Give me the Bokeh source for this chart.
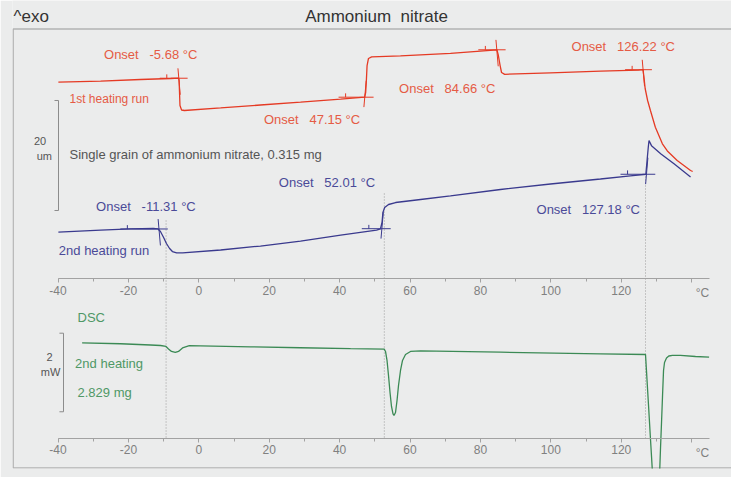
from bokeh.plotting import figure
from bokeh.models import Range1d, LinearAxis, SingleIntervalTicker, CustomJSTickFormatter
from bokeh.core.properties import value
from bokeh.embed import file_html
from bokeh.resources import INLINE
import numpy as np

# ---------------------------------------------------------------------------
# TMA, 1st heating run: temperature (°C) vs. length change (µm, display offset)
tma1_temp = [-39.9, -27.9, -16.6, -8.0, -5.75, -5.6, -5.5, -5.35, -4.9, -4.1,
             6.2, 17.5, 28.9, 40.3, 47.1, 47.4, 47.6, 47.8, 48.2, 49.1,
             57.3, 71.5, 84.7, 85.1, 85.6, 86.0, 86.9, 99.9, 114.1, 124.9,
             126.2, 126.5, 126.8, 127.5, 128.3, 129.7, 131.7, 133.1, 135.9, 139.7, 140.3]
tma1_len = [0.24, 0.45, 0.73, 0.91, 0.96, 0.55, -1.27, -4.0, -4.82, -4.91,
            -4.45, -3.91, -3.40, -2.85, -2.49, -1.64, 0.55, 3.27, 4.55, 4.85,
            5.04, 5.49, 6.13, 5.09, 3.27, 2.0, 1.67, 1.95, 2.24, 2.45,
            2.51, 0.91, -0.91, -3.09, -4.91, -7.95, -10.96, -12.27, -14.0, -15.82, -16.0]

# TMA, 2nd heating run
tma2_temp = [-39.9, -27.9, -19.4, -12.9, -11.6, -10.9, -10.0, -9.2, -8.3, -7.5,
             -6.3, -4.6, 6.2, 17.5, 28.9, 40.3, 50.5, 51.6, 52.05, 52.3,
             52.8, 53.9, 55.9, 63.0, 71.5, 85.7, 99.9, 114.1, 122.6, 127.0,
             127.4, 127.7, 127.9, 128.6, 131.3, 135.0, 139.7]
tma2_len = [-27.04, -26.67, -26.42, -26.36, -26.45, -26.91, -28.0, -29.09, -30.0, -30.55,
            -30.78, -30.78, -30.27, -29.55, -28.64, -27.55, -26.64, -26.45, -25.27, -23.45,
            -22.55, -22.0, -21.64, -21.09, -20.45, -19.27, -18.27, -17.36, -16.78, -16.5,
            -13.6, -11.5, -10.36, -11.3, -12.8, -14.6, -17.0]

# DSC, 2nd heating: temperature (°C) vs. heat flow (mW, exo up)
dsc_temp = [-33.15, -22.24, -13.72, -10.88, -9.32, -8.61, -7.76, -6.68, -5.77, -4.63,
            -2.7, 0.48, 14.69, 28.89, 43.1, 52.67, 53.04, 53.47, 53.89, 54.32,
            54.74, 55.17, 55.45, 55.88, 56.31, 56.73, 57.3, 57.87, 58.72, 60.14,
            62.98, 85.7, 114.12, 126.9, 127.19, 127.47, 127.76, 128.04, 128.32, 128.61,
            128.89, 129.32, 129.89, 130.45, 130.97, 131.16, 131.45, 131.73, 132.02, 132.3,
            132.87, 133.52, 134.57, 136.84, 141.1, 144.97]
dsc_flow = [0.0, -0.025, -0.056, -0.069, -0.094, -0.158, -0.221, -0.247, -0.221, -0.132,
            -0.074, -0.079, -0.102, -0.127, -0.150, -0.163, -0.221, -0.450, -0.832, -1.265,
            -1.621, -1.812, -1.850, -1.774, -1.469, -1.087, -0.705, -0.450, -0.298, -0.221,
            -0.204, -0.239, -0.280, -0.298, -0.730, -1.163, -1.596, -2.028, -2.461, -2.894,
            -3.326, -3.886, -4.319, -4.013, -3.166, -2.690, -2.028, -1.367, -0.705, -0.501,
            -0.387, -0.336, -0.323, -0.323, -0.349, -0.367]

# Evaluated onsets (°C), their level on the curve (µm), step direction and
# the start of the baseline evaluation window
run1_onset = [-5.68, 47.15, 84.66, 126.22]
run1_onset_len = [0.96, -2.49, 6.13, 2.51]
run1_step = [-1, 1, -1, -1]
run1_limit = [-9.1, 41.7, 81.4, 123.1]

run2_onset = [-11.31, 52.01, 127.18]
run2_onset_len = [-26.45, -26.4, -16.5]
run2_step = [-1, 1, 1]
run2_limit = [-20.3, 48.3, 121.8]

# DSC transition temperatures linked to the TMA traces
dsc_link_temp = [-9.3, 52.7, 126.9]

# Scale bars
tma_scale_um = 20
dsc_scale_mw = 2

axis_ticks_step = 20
chart_title = "Ammonium\u00a0 nitrate"
exo_note = "^exo"
sample_note = "Single grain of ammonium nitrate, 0.315 mg"
dsc_mass = "2.829 mg"

# ---------------------------------------------------------------------------
FONT = "Liberation Sans"
BG = "#ebecec"
RED, RED_TXT = "#e53a24", "#e55b45"
BLUE, BLUE_TXT = "#3a3a8e", "#4a4a98"
GREEN, GREEN_TXT = "#3b8a55", "#4f9866"
GREY_TXT = "#555555"
AXIS = "#a2a2a2"
FRAME = "#b3b3b3"

# The default y range is in layout units (0 at the top of the page, 468 at the
# bottom of the clipping frame); the curves use their own physical ranges.
p = figure(width=731, height=477, output_backend="svg", toolbar_location=None,
           x_range=Range1d(-52.93, 151.33), y_range=Range1d(468, 0),
           x_axis_location=None, y_axis_location=None, title=None,
           min_border_left=12, min_border_right=0, min_border_top=0, min_border_bottom=9,
           background_fill_color=BG, border_fill_color=BG, outline_line_color=None)
p.grid.visible = False
p.extra_y_ranges = {"tma": Range1d(-70, 15.091), "dsc": Range1d(-3.2, 8.7127)}

# panel frame
p.line(x=[155, -52.75, -52.75, 155], y=[28.5, 28.5, 467.5, 467.5],
       line_color=FRAME, line_width=1.5)

# temperature axes of both panels; the last tick carries the unit instead of a number
for loc in (278, 437.5):
    ax = LinearAxis(fixed_location=loc,
                    ticker=SingleIntervalTicker(interval=axis_ticks_step, num_minor_ticks=2),
                    formatter=CustomJSTickFormatter(code="return tick >= 140 ? '' : tick.toString()"),
                    bounds=(-40, 145),
                    axis_line_color=AXIS, major_tick_line_color=AXIS, minor_tick_line_color=AXIS,
                    major_tick_in=0, major_tick_out=4, minor_tick_in=0, minor_tick_out=3,
                    major_label_standoff=3, major_label_text_font=FONT,
                    major_label_text_font_size="12px", major_label_text_color="#808080")
    p.add_layout(ax, "below")
p.text(x=[143.1, 143.1], y=[292, 452.5], text=["°C", "°C"], text_color="#808080",
       text_font=value(FONT), text_font_size="12px", text_align="center", text_baseline="middle")

# dotted links from the DSC events to the TMA steps
p.segment(x0=dsc_link_temp, y0=[220, 193, 176], x1=dsc_link_temp, y1=[437.5] * 3,
          line_color="#9c9c9c", line_dash="1 2", line_width=1)

# curves
p.line(tma1_temp, tma1_len, y_range_name="tma", line_color=RED, line_width=1.3)
p.line(tma2_temp, tma2_len, y_range_name="tma", line_color=BLUE, line_width=1.3)
p.line(dsc_temp, dsc_flow, y_range_name="dsc", line_color=GREEN, line_width=1.3)


def onset_marks(onset, level, step, limit, color):
    onset, level, step, limit = map(np.asarray, (onset, level, step, limit))
    # baseline tangent, drawn flat through the onset level
    p.segment(x0=limit - 2, y0=level, x1=onset + 2.5, y1=level,
              y_range_name="tma", line_color=color, line_width=1)
    # steep tangent through the step
    p.segment(x0=onset - 0.25, y0=level - step * 1.8, x1=onset + 0.4, y1=level + step * 3.0,
              y_range_name="tma", line_color=color, line_width=1)
    # evaluation limit tick
    p.segment(x0=limit, y0=level, x1=limit, y1=level + 0.7,
              y_range_name="tma", line_color=color, line_width=1)


onset_marks(run1_onset, run1_onset_len, run1_step, run1_limit, RED)
onset_marks(run2_onset, run2_onset_len, run2_step, run2_limit, BLUE)

# scale bars
p.line(x=[-41.0, -39.86, -39.86, -41.0], y=[-3.09, -3.09, -3.09 - tma_scale_um, -3.09 - tma_scale_um],
       y_range_name="tma", line_color="#8c8c8c", line_width=1)
p.line(x=[-39.6, -38.44, -38.44, -39.6], y=[0.244, 0.244, 0.244 - dsc_scale_mw, 0.244 - dsc_scale_mw],
       y_range_name="dsc", line_color="#8c8c8c", line_width=1)
p.text(x=[-45.09, -43.9, -42.41, -42.13], y=[140, 155, 356.7, 371.7],
       text=[str(tma_scale_um), "um", str(dsc_scale_mw), "mW"], text_color=GREY_TXT,
       text_font=value(FONT), text_font_size="11px", text_align="center", text_baseline="middle")


def onset_text(t):
    return "Onset\u00a0\u00a0\u00a0" + f"{t:.2f}" + " °C"


p.text(x=[-26.93, 18.49, 56.9, 105.88], y=[54, 119.3, 88.3, 46],
       text=[onset_text(t) for t in run1_onset], text_color=RED_TXT,
       text_font=value(FONT), text_font_size="13px", text_align="left", text_baseline="middle")
p.text(x=[-29.18, 22.73, 95.94], y=[206, 181.7, 209.3],
       text=[onset_text(t) for t in run2_onset], text_color=BLUE_TXT,
       text_font=value(FONT), text_font_size="13px", text_align="left", text_baseline="middle")
p.text(x=[-36.73], y=[98.3], text=["1st heating run"], text_color=RED_TXT,
       text_font=value(FONT), text_font_size="12px", text_align="left", text_baseline="middle")
p.text(x=[-39.77], y=[250], text=["2nd heating run"], text_color=BLUE_TXT,
       text_font=value(FONT), text_font_size="13px", text_align="left", text_baseline="middle")
p.text(x=[-36.73], y=[154], text=[sample_note], text_color=GREY_TXT,
       text_font=value(FONT), text_font_size="13px", text_align="left", text_baseline="middle")
p.text(x=[-34.46, -35.14, -34.46], y=[316.7, 362.7, 391.7],
       text=["DSC", "2nd heating", dsc_mass], text_color=GREEN_TXT,
       text_font=value(FONT), text_font_size="13px", text_align="left", text_baseline="middle")

# header line
p.text(x=[-52.64], y=[15.5], text=[exo_note], text_color="#333333",
       text_font=value(FONT), text_font_size="17px", text_align="left", text_baseline="middle")
p.text(x=[50.48], y=[15.5], text=[chart_title], text_color="#333333",
       text_font=value(FONT), text_font_size="17px", text_align="center", text_baseline="middle")

open("out.html", "w").write(file_html(p, INLINE))
